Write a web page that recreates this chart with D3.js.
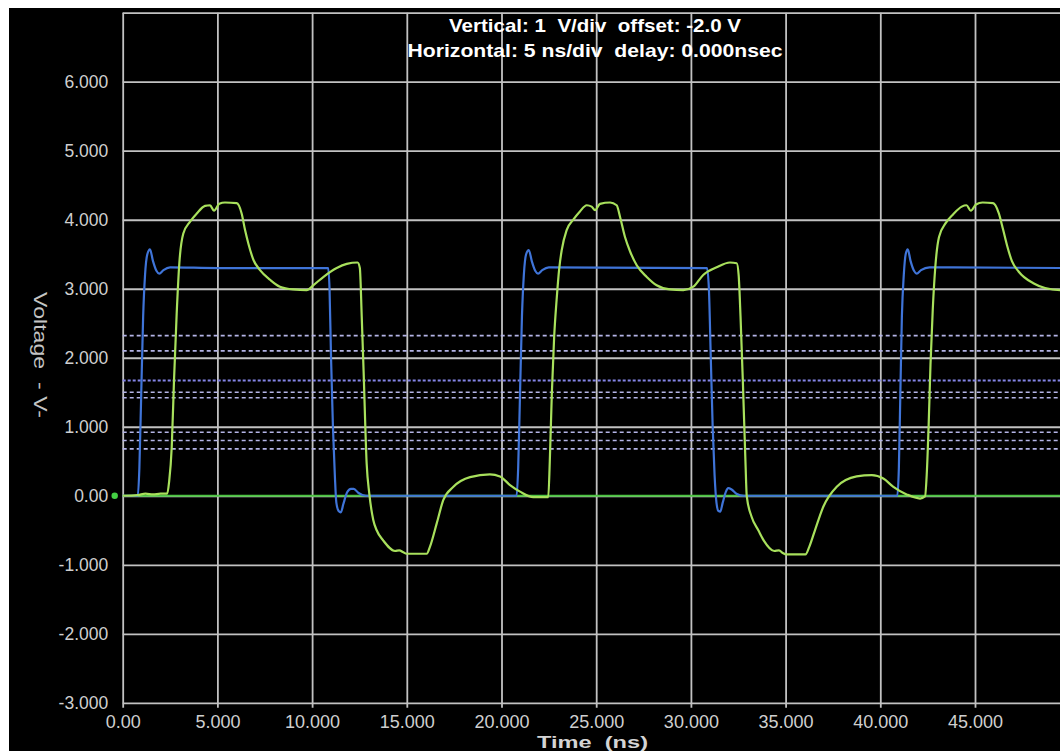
<!DOCTYPE html>
<html>
<head>
<meta charset="utf-8">
<script src="https://cdn.jsdelivr.net/npm/d3@7"></script>
<style>
  html, body { margin: 0; padding: 0; background: #ffffff; overflow: hidden; }
  svg { display: block; }
  text { font-family: "Liberation Sans", Arial, sans-serif; }
</style>
</head>
<body>
<svg id="chart" width="1060" height="751"></svg>
<script>
// ---- scope settings and axis ticks ----
const scopeHeader = [
  "Vertical: 1  V/div  offset: -2.0 V",
  "Horizontal: 5 ns/div  delay: 0.000nsec"
];
const timeTicks = [0, 5, 10, 15, 20, 25, 30, 35, 40, 45, 50];
const timeTickLabels = ["0.00", "5.000", "10.000", "15.000", "20.000", "25.000",
                        "30.000", "35.000", "40.000", "45.000", ""];
const voltTicks = [-3, -2, -1, 0, 1, 2, 3, 4, 5, 6, 7];
const voltTickLabels = ["-3.000", "-2.000", "-1.000", "0.00", "1.000", "2.000",
                        "3.000", "4.000", "5.000", "6.000", ""];

// input thresholds (V) shown as dashed levels, plus the reference level
const thresholdLevels = [2.32, 2.10, 1.50, 1.42, 0.92, 0.80, 0.68];
const referenceLevels = [1.67];

// driver output waveform [time ns, volts]
const driverTrace = [
  [0.00, 0.00], [0.80, 0.00], [0.88, 0.40], [0.98, 1.50], [1.08, 2.60], [1.18, 3.20],
  [1.30, 3.50], [1.44, 3.57], [1.60, 3.40], [1.78, 3.26], [1.93, 3.22], [2.15, 3.27],
  [2.50, 3.31], [5.00, 3.30], [10.85, 3.30], [10.92, 3.00], [11.00, 2.00], [11.10, 1.00],
  [11.20, 0.30], [11.28, -0.10], [11.40, -0.22], [11.52, -0.24], [11.65, -0.12],
  [11.85, 0.05], [12.05, 0.10], [12.20, 0.10], [12.45, 0.04], [12.85, 0.00],
  [20.80, 0.00], [20.88, 0.40], [20.98, 1.50], [21.08, 2.60], [21.18, 3.20], [21.30, 3.50],
  [21.44, 3.56], [21.60, 3.40], [21.78, 3.26], [21.93, 3.22], [22.15, 3.27], [22.50, 3.31],
  [30.85, 3.30], [30.95, 3.00], [31.05, 2.00], [31.15, 1.00], [31.25, 0.30], [31.35, -0.10],
  [31.45, -0.22], [31.55, -0.23], [31.68, -0.10], [31.85, 0.06], [31.97, 0.11],
  [32.15, 0.09], [32.40, 0.03], [32.80, 0.00],
  [40.90, 0.00], [40.98, 0.40], [41.06, 1.50], [41.14, 2.60], [41.24, 3.20], [41.34, 3.50],
  [41.45, 3.57], [41.60, 3.40], [41.78, 3.26], [41.92, 3.22], [42.15, 3.27], [42.60, 3.31],
  [50.00, 3.30]
];

// receiver input waveform [time ns, volts]
const receiverTrace = [
  [0.00, 0.00], [0.80, 0.01], [1.20, 0.03], [1.60, 0.02], [2.00, 0.03], [2.35, 0.03],
  [2.45, 0.20], [2.59, 0.71], [2.71, 1.68], [2.85, 2.64], [2.99, 3.37], [3.20, 3.80],
  [3.55, 3.97], [3.91, 4.09], [4.35, 4.20], [4.61, 4.21], [4.82, 4.13], [5.10, 4.23],
  [5.40, 4.25], [6.02, 4.24], [6.28, 4.09], [6.46, 3.85], [6.63, 3.66], [6.90, 3.42],
  [7.25, 3.27], [7.78, 3.13], [8.30, 3.03], [9.01, 2.99], [9.71, 2.98], [10.06, 3.05],
  [10.59, 3.17], [11.30, 3.30], [11.83, 3.36], [12.40, 3.38], [12.52, 3.30], [12.62, 2.60],
  [12.72, 1.80], [12.88, 0.47], [13.02, 0.03], [13.23, -0.35], [13.41, -0.50],
  [13.76, -0.65], [14.38, -0.80], [14.60, -0.79], [14.82, -0.82], [14.99, -0.84],
  [16.05, -0.84], [16.22, -0.74], [16.58, -0.40], [16.93, -0.06], [17.46, 0.13],
  [18.34, 0.27], [19.39, 0.31], [19.92, 0.28], [20.45, 0.155], [20.98, 0.06],
  [21.68, -0.02], [22.30, -0.02], [22.47, -0.02],
  [22.55, 0.50], [22.66, 1.50], [22.78, 2.30], [22.91, 2.84], [23.05, 3.30], [23.18, 3.56],
  [23.44, 3.85], [23.79, 4.00], [24.14, 4.12], [24.50, 4.21], [24.76, 4.19], [24.94, 4.14],
  [25.20, 4.23], [25.73, 4.25], [26.08, 4.21], [26.26, 4.04], [26.52, 3.75], [26.79, 3.54],
  [27.14, 3.34], [27.67, 3.17], [28.19, 3.05], [28.89, 2.99], [29.60, 2.98], [30.13, 3.03],
  [30.65, 3.20], [31.36, 3.31], [32.06, 3.38], [32.42, 3.37], [32.52, 3.20], [32.62, 2.60],
  [32.75, 1.60], [32.88, 0.50], [32.95, -0.01], [33.20, -0.30], [33.56, -0.50],
  [33.85, -0.65], [34.40, -0.80], [34.65, -0.79], [34.85, -0.83], [35.05, -0.85],
  [36.05, -0.85], [36.25, -0.74], [36.55, -0.50], [36.99, -0.16], [37.70, 0.13],
  [38.75, 0.28], [39.55, 0.30], [40.16, 0.25], [40.69, 0.13], [41.39, 0.02],
  [42.10, -0.04], [42.36, -0.01],
  [42.45, 0.30], [42.55, 1.00], [42.65, 1.90], [42.77, 2.70], [42.90, 3.30], [43.10, 3.75],
  [43.45, 3.95], [43.85, 4.08], [44.30, 4.19], [44.55, 4.21], [44.78, 4.13], [45.05, 4.22],
  [45.40, 4.25], [45.95, 4.24], [46.25, 4.10], [46.49, 3.85], [46.70, 3.62], [46.95, 3.40],
  [47.30, 3.25], [48.08, 3.08], [48.70, 3.01], [49.49, 2.98], [50.00, 2.98]
];

// ---- layout ----
const W = 1060, H = 751;
const plot = { left: 122.7, right: 1069.7, top: 12.7, bottom: 702.8 };

const svg = d3.select("#chart");

const x = d3.scaleLinear().domain([0, 50]).range([plot.left, plot.right]);
const y = d3.scaleLinear().domain([-3, 7]).range([plot.bottom, plot.top]);

// screen background with light frame on top and left
svg.append("rect").attr("width", W).attr("height", H).attr("fill", "#ffffff");
svg.append("rect").attr("x", 9).attr("y", 8).attr("width", W - 9).attr("height", H - 8)
  .attr("fill", "#000000");

const gridColor = "#c2c2c2";
const tickColor = "#cfcfcf";

// vertical grid + time labels
const xAxis = d3.axisBottom(x)
  .tickValues(timeTicks)
  .tickFormat((d, i) => timeTickLabels[i])
  .tickSizeInner(-(plot.bottom + 5 - plot.top))
  .tickSizeOuter(0)
  .tickPadding(7.5);

const gx = svg.append("g")
  .attr("transform", `translate(0,${plot.bottom + 5})`)
  .call(xAxis);
gx.select(".domain").remove();
gx.selectAll(".tick line").attr("stroke", gridColor).attr("stroke-width", 1.8);
gx.selectAll(".tick text").attr("fill", tickColor).attr("font-size", 18)
  .attr("font-family", "'Liberation Sans', Arial, sans-serif");

// horizontal grid + voltage labels
const yAxis = d3.axisLeft(y)
  .tickValues(voltTicks)
  .tickFormat((d, i) => voltTickLabels[i])
  .tickSizeInner(-(plot.right - plot.left))
  .tickSizeOuter(0)
  .tickPadding(14.5);

const gy = svg.append("g")
  .attr("transform", `translate(${plot.left},0)`)
  .call(yAxis);
gy.select(".domain").remove();
gy.selectAll(".tick line").attr("stroke", gridColor).attr("stroke-width", 1.8);
gy.selectAll(".tick text").attr("fill", tickColor).attr("font-size", 17.5)
  .attr("font-family", "'Liberation Sans', Arial, sans-serif");

// threshold levels
svg.append("g").selectAll("line")
  .data(thresholdLevels)
  .join("line")
  .attr("x1", plot.left).attr("x2", plot.right)
  .attr("y1", d => y(d)).attr("y2", d => y(d))
  .attr("stroke", "#b4b4e6")
  .attr("stroke-width", 1.6)
  .attr("stroke-dasharray", "4,3");

svg.append("g").selectAll("line")
  .data(referenceLevels)
  .join("line")
  .attr("x1", plot.left).attr("x2", plot.right)
  .attr("y1", d => y(d)).attr("y2", d => y(d))
  .attr("stroke", "#8484e6")
  .attr("stroke-width", 2.2)
  .attr("stroke-dasharray", "3,2");

// channel ground reference
svg.append("line")
  .attr("x1", plot.left).attr("x2", plot.right)
  .attr("y1", y(0)).attr("y2", y(0))
  .attr("stroke", "#4cc442").attr("stroke-width", 2);
svg.append("circle")
  .attr("cx", plot.left - 8).attr("cy", y(0)).attr("r", 3.2)
  .attr("fill", "#44d044");

// waveforms
const line = d3.line()
  .x(d => x(d[0]))
  .y(d => y(d[1]))
  .curve(d3.curveMonotoneX);

svg.append("path")
  .datum(driverTrace)
  .attr("d", line)
  .attr("fill", "none")
  .attr("stroke", "#3f74d8")
  .attr("stroke-width", 2.2)
  .attr("stroke-linejoin", "round");

svg.append("path")
  .datum(receiverTrace)
  .attr("d", line)
  .attr("fill", "none")
  .attr("stroke", "#a8e05c")
  .attr("stroke-width", 2.2)
  .attr("stroke-linejoin", "round");

// header text
const headerWidths = [292, 375];
svg.append("g").selectAll("text")
  .data(scopeHeader)
  .join("text")
  .attr("x", 595)
  .attr("y", (d, i) => 32 + i * 25)
  .attr("text-anchor", "middle")
  .attr("fill", "#ffffff")
  .attr("font-weight", "bold")
  .attr("font-size", 18.5)
  .attr("textLength", (d, i) => headerWidths[i])
  .attr("lengthAdjust", "spacingAndGlyphs")
  .style("white-space", "pre")
  .text(d => d);

// axis titles
svg.append("text")
  .attr("transform", "translate(40,355) rotate(90)")
  .attr("text-anchor", "middle")
  .attr("dominant-baseline", "central")
  .attr("fill", "#c4c4c4")
  .attr("font-size", 18)
  .attr("textLength", 126)
  .attr("lengthAdjust", "spacingAndGlyphs")
  .style("white-space", "pre")
  .text("Voltage  - V-");

svg.append("text")
  .attr("x", 592.5)
  .attr("y", 747.5)
  .attr("text-anchor", "middle")
  .attr("fill", "#d4d4d4")
  .attr("font-weight", "bold")
  .attr("font-size", 16)
  .attr("textLength", 111)
  .attr("lengthAdjust", "spacingAndGlyphs")
  .style("white-space", "pre")
  .text("Time  (ns)");
</script>
</body>
</html>
